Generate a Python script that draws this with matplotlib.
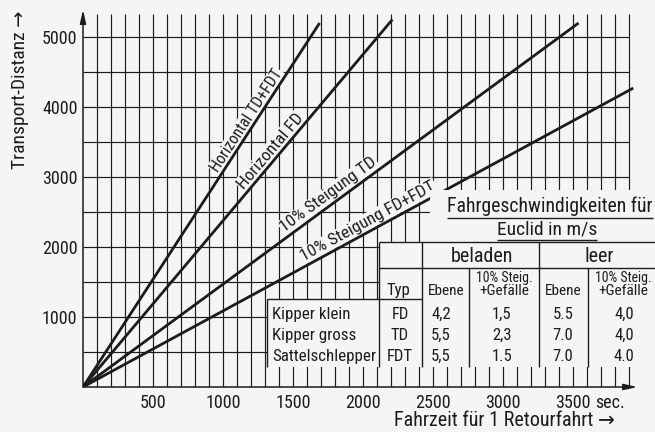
import numpy as np
import matplotlib.pyplot as plt
from matplotlib import font_manager
from matplotlib.patches import Rectangle

"""
Fahrzeit / Transport-Distanz fuer Euclid Kipper
"""

# Geraden vom Ursprung bis zum Endpunkt (Fahrzeit in sec, Distanz in m)
kurven = ['Horizontal TD+FDT', 'Horizontal FD', '10% Steigung TD', '10% Steigung FD+FDT']
zeit_ende = [1690, 2210, 3540, 3930]
dist_ende = [5200, 5250, 5200, 4270]

x_ticks = [500, 1000, 1500, 2000, 2500, 3000, 3500]
y_ticks = [1000, 2000, 3000, 4000, 5000]

# Tabelle Fahrgeschwindigkeiten
fahrzeug = ['Kipper klein', 'Kipper gross', 'Sattelschlepper']
typ = ['FD', 'TD', 'FDT']
bel_ebene = ['4,2', '5,5', '5,5']
bel_steig = ['1,5', '2,3', '1.5']
leer_ebene = ['5.5', '7.0', '7.0']
leer_steig = ['4,0', '4,0', '4.0']

# Schrift: moeglichst schmal
names = {f.name for f in font_manager.fontManager.ttflist}
schrift = 'Roboto'
for kandidat in ['Roboto Condensed', 'Liberation Sans Narrow', 'Roboto']:
    if kandidat in names:
        schrift = kandidat
        break
plt.rcParams['font.family'] = [schrift, 'DejaVu Sans']

BG = '#f5f5f5'
INK = '#1c1c1c'
W, H = 655, 432

fig = plt.figure(figsize=(6.55, 4.32), dpi=100, facecolor=BG)

# Ursprung bei Pixel (83, 387), 14 px pro 100 sec, 70 px pro 1000 m
x0, y0 = 83, 387
xmax, ymax = 4000, 5400
ax = fig.add_axes([x0 / W, (H - y0) / H, xmax * 0.14 / W, ymax * 0.07 / H])
ax.set_xlim(0, xmax)
ax.set_ylim(0, ymax)
ax.set_facecolor(BG)
for s in ax.spines.values():
    s.set_visible(False)

# Netz
ax.vlines(np.arange(100, 4000, 100), 0, 5330, color=INK, lw=0.85, zorder=1)
ax.hlines(np.arange(500, 5001, 500), 0, 3900, color=INK, lw=0.85, zorder=1)

# Achsen mit Pfeil
pfeil = dict(arrowstyle='-|>,head_length=0.8,head_width=0.18', color=INK, lw=1.1,
             shrinkA=0, shrinkB=0)
ax.annotate('', xy=(0, 5390), xytext=(0, 0), arrowprops=pfeil, zorder=2)
ax.annotate('', xy=(3960, 0), xytext=(0, 0), arrowprops=pfeil, zorder=2)

ax.set_xticks(x_ticks)
ax.set_yticks(y_ticks)
ax.set_xticklabels([str(v) for v in x_ticks])
ax.set_yticklabels([str(v) for v in y_ticks])
ax.tick_params(length=0, labelsize=13, colors=INK)
ax.tick_params(axis='x', pad=5)
ax.tick_params(axis='y', pad=4)
ax.annotate('sec.', xy=(x_ticks[-1], 0), xytext=(16, -5), textcoords='offset points',
            ha='left', va='top', fontsize=13, color=INK)

# Geraden + Beschriftung
frac = [0.72, 0.627, 0.507, 0.527]
abstand = [8.3, 8.8, 9.8, 9.8]   # px ueber der Linie
groesse = [11.5, 12.5, 12.5, 12.5]
for name, t, s, f, a, g in zip(kurven, zeit_ende, dist_ende, frac, abstand, groesse):
    ax.plot([0, t], [0, s], color=INK, lw=2.0, solid_capstyle='butt', zorder=4)
    p0 = ax.transData.transform((0, 0))
    p1 = ax.transData.transform((t, s))
    ang = np.arctan2(p1[1] - p0[1], p1[0] - p0[0])
    off = a * 72 / 100
    ax.annotate(name, xy=(f * t, f * s), xytext=(-np.sin(ang) * off, np.cos(ang) * off),
                textcoords='offset points', rotation=np.degrees(ang), rotation_mode='anchor',
                ha='center', va='center', fontsize=g, color=INK, zorder=3,
                bbox=dict(fc=BG, ec='none', pad=0.6))

fig.text(20 / W, 1 - 90 / H, 'Transport-Distanz →', rotation=90, ha='center', va='center',
         fontsize=14, color=INK)
fig.text(504 / W, 1 - 420 / H, 'Fahrzeit für 1 Retourfahrt →', ha='center', va='center',
         fontsize=14.5, color=INK)

# Tabelle in Pixelkoordinaten
ov = fig.add_axes([0, 0, 1, 1])
ov.set_xlim(0, W)
ov.set_ylim(H, 0)
ov.axis('off')

ov.add_patch(Rectangle((430, 190), 240, 52, fc=BG, ec='none'))
ov.add_patch(Rectangle((379, 242), 290, 125, fc=BG, ec='none'))
ov.add_patch(Rectangle((267, 299), 400, 68, fc=BG, ec='none'))

lw = 1.0
ov.hlines([242, 268], 379, 670, color=INK, lw=lw)
ov.hlines(299, 267, 422, color=INK, lw=lw)
ov.vlines(267, 299, 367, color=INK, lw=lw)
ov.vlines([379, 422, 539], 242, 367, color=INK, lw=lw)
ov.vlines([469, 588], 268, 367, color=INK, lw=lw)

t1 = ov.text(550, 206, 'Fahrgeschwindigkeiten für', ha='center', va='center',
             fontsize=14.2, color=INK)
t2 = ov.text(547, 229, 'Euclid in m/s', ha='center', va='center', fontsize=14, color=INK)
fig.canvas.draw()
inv = ov.transData.inverted()
for tx, yline in [(t1, 218), (t2, 240)]:
    bb = tx.get_window_extent()
    xa = inv.transform((bb.x0, 0))[0]
    xb = inv.transform((bb.x1, 0))[0]
    ov.hlines(yline, xa, xb, color=INK, lw=1.0)

ov.text(482, 256, 'beladen', ha='center', va='center', fontsize=14.5, color=INK)
ov.text(599, 256, 'leer', ha='center', va='center', fontsize=14.5, color=INK)

ov.text(398, 295, 'Typ', ha='center', va='baseline', fontsize=12, color=INK)
for xc in [446, 563]:
    ov.text(xc, 295, 'Ebene', ha='center', va='baseline', fontsize=11, color=INK)
for xc in [504, 623]:
    ov.text(xc, 282, '10% Steig.', ha='center', va='baseline', fontsize=10, color=INK)
    ov.text(xc, 295, '+Gefälle', ha='center', va='baseline', fontsize=11, color=INK)

zeilen_y = [319, 340, 361]
for i, yb in enumerate(zeilen_y):
    ov.text(272, yb, fahrzeug[i], ha='left', va='baseline', fontsize=12.2, color=INK)
    ov.text(400, yb, typ[i], ha='center', va='baseline', fontsize=12, color=INK)
    ov.text(441, yb, bel_ebene[i], ha='center', va='baseline', fontsize=12, color=INK)
    ov.text(502, yb, bel_steig[i], ha='center', va='baseline', fontsize=12, color=INK)
    ov.text(563, yb, leer_ebene[i], ha='center', va='baseline', fontsize=12, color=INK)
    ov.text(624, yb, leer_steig[i], ha='center', va='baseline', fontsize=12, color=INK)

fig.savefig('out.png', dpi=100, facecolor=BG)
